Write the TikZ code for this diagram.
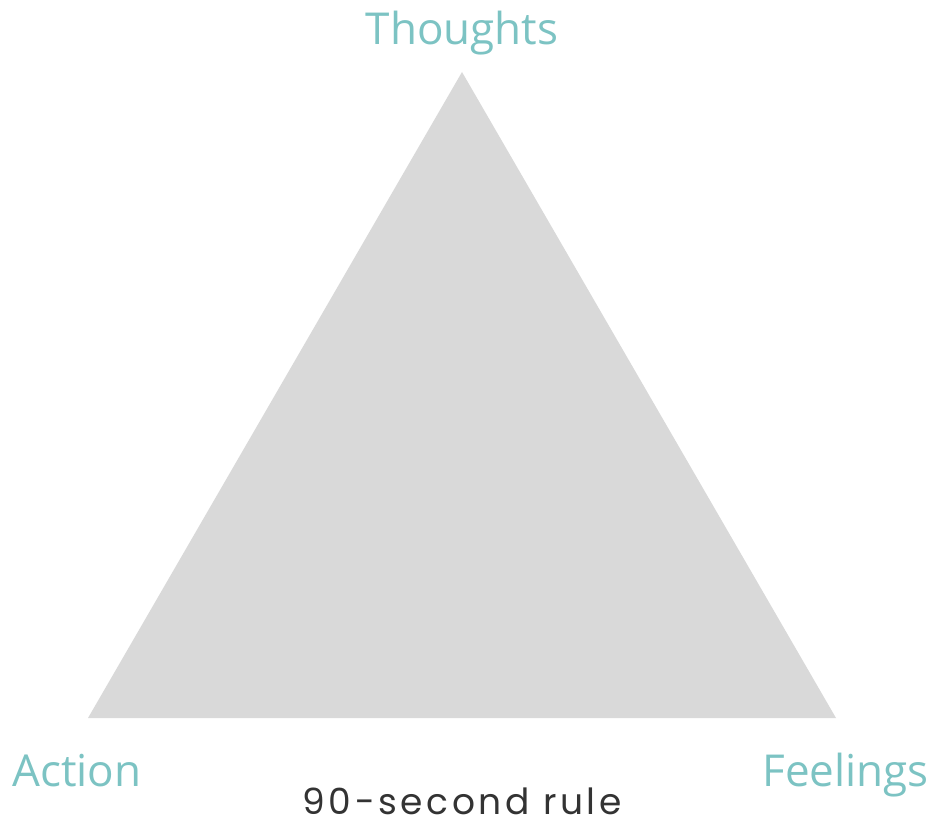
\documentclass[tikz,border=0pt]{standalone}
\usepackage{fontspec}
\setmainfont{Open Sans}
\newfontfamily\rulefont[LetterSpace=10]{Poppins}
\usepackage{xcolor}
\usepackage{tikz}
\usetikzlibrary{positioning}

\definecolor{triGray}{HTML}{D9D9D9}
\definecolor{labelTeal}{HTML}{7CC3C3}
\definecolor{ruleGray}{HTML}{333333}

\begin{document}
\begin{tikzpicture}[
  x=0.75pt, y=-0.75pt,
  corner/.style={font=\fontsize{33}{36}\selectfont, text=labelTeal, inner sep=0pt},
  caption/.style={font=\rulefont\fontsize{27}{30}\selectfont, text=ruleGray, inner sep=0pt}
]
\useasboundingbox (0,0) rectangle (934,820);

% Triangle corners
\coordinate (top) at (462,72);
\coordinate (left) at (88,718);
\coordinate (right) at (836,718);
\fill[triGray] (top) -- (left) -- (right) -- cycle;

% Labels
\node[corner, anchor=base] (thoughts) at (462,45) {Thoughts};
\node[corner, anchor=base west] (action) at (12,786) {Action};
\node[corner, anchor=base east] (feelings) at (929,786) {Feelings};

% Caption
\node[caption, anchor=base] (rule) at (462,814) {90-second rule};
\end{tikzpicture}
\end{document}
